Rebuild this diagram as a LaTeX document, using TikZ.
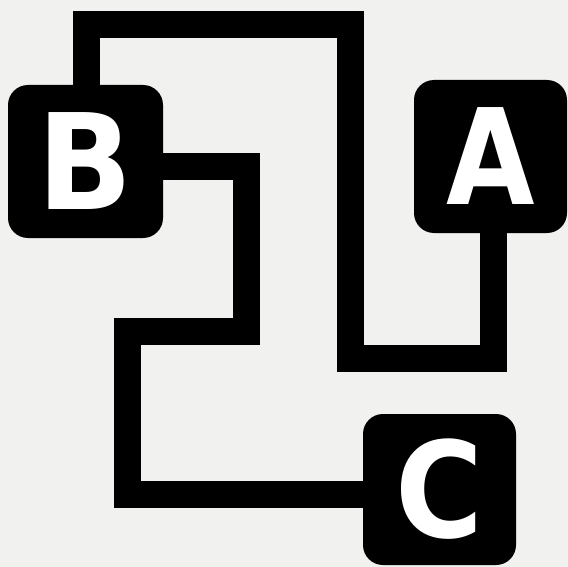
\documentclass[tikz,border=0pt]{standalone}
\usepackage{fontspec}
\setmainfont{DejaVu Sans}
\definecolor{paper}{RGB}{241,241,240}
\begin{document}
\begin{tikzpicture}[x=1pt,y=-1pt,
  wire/.style={line width=27pt,line join=miter,line cap=butt,black},
  letterbox/.style={fill=black,text=white,rounded corners=20pt,minimum width=153pt,minimum height=153pt,inner sep=0pt,
    font=\fontsize{133}{133}\selectfont\bfseries}]
\fill[paper] (0,0) rectangle (568,567);
\useasboundingbox (0,0) rectangle (568,567);
\node[letterbox,minimum width=155pt] (B) at (85.5,161.5) {\raisebox{-1.5pt}{\scalebox{0.94}[1]{B}}};
\node[letterbox] (A) at (490.5,156.5) {\raisebox{-4.5pt}{\scalebox{0.86}[1]{A}}};
\node[letterbox,minimum height=151pt] (C) at (439.5,489.5) {\raisebox{-4pt}{\scalebox{0.9}[1]{C}}};
\draw[wire] ([xshift=1pt]B.north) |- (350.5,24.5) |- (493,358) -- ([xshift=2.5pt]A.south);
\draw[wire] ([yshift=-5.5pt]B.east) -| (246,331) -| (127.5,494) -- ([yshift=-4.5pt]C.west);
\end{tikzpicture}
\end{document}
